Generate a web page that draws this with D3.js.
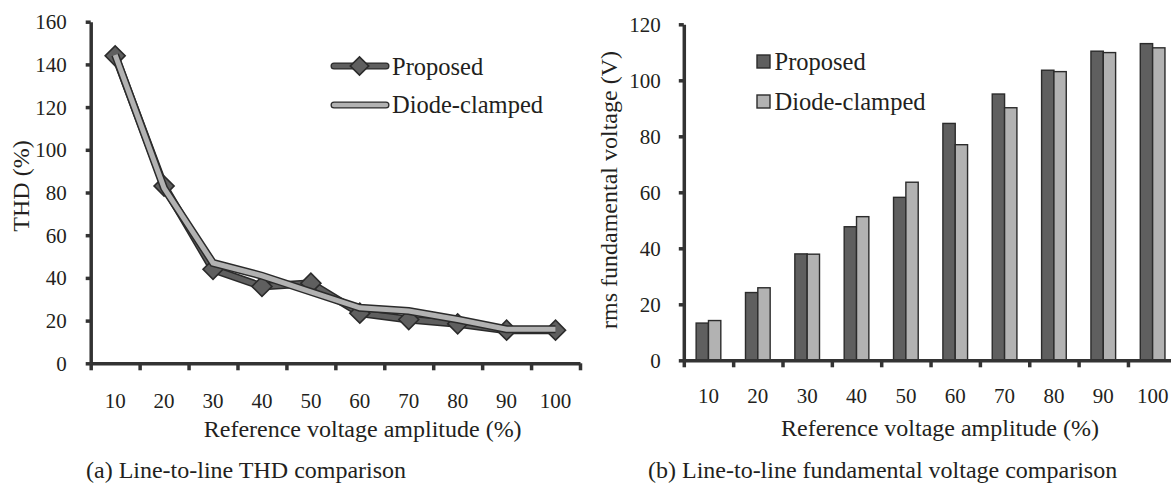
<!DOCTYPE html>
<meta charset="utf-8">
<html>
  <head>
    <style>
     body { margin: 0; background: #fff; }
     text { font-family: "Liberation Serif", "Times New Roman", serif; fill: #231f20; }
     .axis path, .axis line { stroke: #333; stroke-width: 3.5px; }
     .axis text { font-size: 21px; }
     .title { font-size: 24px; }
     .legend text { font-size: 24.5px; }
    </style>
    <script src="https://d3js.org/d3.v7.min.js"></script>
  </head>
  <body>
    <div id="chart"></div>
    <script type="text/javascript">
     // data
     var categories = [10, 20, 30, 40, 50, 60, 70, 80, 90, 100];
     var seriesNames = ["Proposed", "Diode-clamped"];
     var thdProposed = [144, 83, 44, 36, 37.5, 23.5, 20.5, 18.5, 15.5, 15.5];
     var thdDiode = [144.5, 82, 47, 41, 33.5, 26, 24.5, 20.5, 16, 16];
     var voltProposed = [13.3, 24.2, 38, 47.7, 58.2, 84.6, 95.1, 103.6, 110.4, 113.1];
     var voltDiode = [14.2, 25.9, 37.9, 51.3, 63.6, 77.0, 90.2, 103.1, 109.9, 111.6];
     var thdTicks = [0, 20, 40, 60, 80, 100, 120, 140, 160];
     var voltTicks = [0, 20, 40, 60, 80, 100, 120];

     var dark = "#5f5f5f", light = "#b2b2b2", edge = "#2b2b2b";

     var svg = d3.select("#chart").append("svg")
                 .attr("width", 1171)
                 .attr("height", 485);

     // ---------- (a) THD line chart ----------
     var xL = d3.scaleBand().domain(categories).range([90.7, 580]);
     var xLb = d3.scaleLinear().domain([0, categories.length]).range([90.7, 580]);
     var yL = d3.scaleLinear().domain([0, 160]).range([363.3, 21.7]);

     var left = svg.append("g");

     left.append("g").attr("class", "axis")
         .attr("transform", "translate(0," + yL(0) + ")")
         .call(d3.axisBottom(xLb).ticks(10).tickSize(7).tickSizeOuter(0).tickFormat(""));
     left.append("g").attr("class", "axis")
         .attr("transform", "translate(0," + yL(0) + ")")
         .call(d3.axisBottom(xL).tickSize(0))
         .call(function (g) { g.select(".domain").remove(); })
         .selectAll("text").attr("y", 44.7).attr("dy", 0);
     left.append("g").attr("class", "axis")
         .attr("transform", "translate(" + xLb(0) + ",0)")
         .call(d3.axisLeft(yL).tickValues(thdTicks).tickSize(5).tickSizeOuter(0).tickPadding(19))
         .selectAll("text").attr("dy", "0.33em");

     var lineL = function (vals) {
       return d3.line()
                .x(function (d, i) { return xL(categories[i]) + xL.bandwidth() / 2; })
                .y(function (d) { return yL(d); })(vals);
     };

     // Proposed
     left.append("path").attr("d", lineL(thdProposed))
         .attr("fill", "none").attr("stroke", edge).attr("stroke-width", 8);
     left.append("path").attr("d", lineL(thdProposed))
         .attr("fill", "none").attr("stroke", dark).attr("stroke-width", 5);
     left.selectAll(".diamond")
         .data(thdProposed)
         .enter().append("path")
         .attr("class", "diamond")
         .attr("d", d3.symbol().type(d3.symbolSquare).size(200))
         .attr("transform", function (d, i) {
           return "translate(" + (xL(categories[i]) + xL.bandwidth() / 2) + "," + yL(d) + ") rotate(45)";
         })
         .attr("fill", dark).attr("stroke", edge).attr("stroke-width", 1.6);
     // Diode-clamped
     left.append("path").attr("d", lineL(thdDiode))
         .attr("fill", "none").attr("stroke", edge).attr("stroke-width", 8);
     left.append("path").attr("d", lineL(thdDiode))
         .attr("fill", "none").attr("stroke", light).attr("stroke-width", 5);

     var legL = left.append("g").attr("class", "legend");
     [dark, light].forEach(function (c, i) {
       var y = [66, 105][i];
       legL.append("line").attr("x1", 334).attr("x2", 386).attr("y1", y).attr("y2", y)
           .attr("stroke", edge).attr("stroke-width", 7).attr("stroke-linecap", "round");
       legL.append("line").attr("x1", 334).attr("x2", 386).attr("y1", y).attr("y2", y)
           .attr("stroke", c).attr("stroke-width", 4.5).attr("stroke-linecap", "round");
       legL.append("text").attr("x", 392).attr("y", [75, 113][i]).text(seriesNames[i]);
     });
     legL.append("path")
         .attr("d", d3.symbol().type(d3.symbolSquare).size(170))
         .attr("transform", "translate(359.5,66) rotate(45)")
         .attr("fill", dark).attr("stroke", edge).attr("stroke-width", 1.6);

     left.append("text").attr("class", "title")
         .attr("transform", "translate(29,186) rotate(-90)")
         .attr("text-anchor", "middle").text("THD (%)");
     left.append("text").attr("class", "title")
         .attr("x", 362.7).attr("y", 437).attr("text-anchor", "middle")
         .text("Reference voltage amplitude (%)");
     left.append("text").attr("class", "title")
         .attr("x", 86).attr("y", 478).text("(a) Line-to-line THD comparison");

     // ---------- (b) fundamental voltage bar chart ----------
     var xR = d3.scaleBand().domain(categories).range([683.8, 1177.3]);
     var xRb = d3.scaleLinear().domain([0, categories.length]).range([683.8, 1177.3]);
     var xS = d3.scaleBand().domain(seriesNames)
                .range([xR.bandwidth() / 4, xR.bandwidth() * 3 / 4]);
     var yR = d3.scaleLinear().domain([0, 120]).range([360.3, 24.3]);

     var right = svg.append("g");

     var groups = right.selectAll(".group")
                       .data(categories)
                       .enter().append("g")
                       .attr("class", "group")
                       .attr("transform", function (d) { return "translate(" + xR(d) + ",0)"; });
     groups.selectAll("rect")
           .data(function (d, i) {
             return [{ s: seriesNames[0], v: voltProposed[i], c: dark },
                     { s: seriesNames[1], v: voltDiode[i], c: light }];
           })
           .enter().append("rect")
           .attr("x", function (d) { return xS(d.s); })
           .attr("y", function (d) { return yR(d.v); })
           .attr("width", xS.bandwidth())
           .attr("height", function (d) { return yR(0) - yR(d.v); })
           .attr("fill", function (d) { return d.c; })
           .attr("stroke", edge).attr("stroke-width", 1.4);

     right.append("g").attr("class", "axis")
          .attr("transform", "translate(0," + yR(0) + ")")
          .call(d3.axisBottom(xRb).ticks(10).tickSize(7).tickSizeOuter(0).tickFormat(""));
     right.append("g").attr("class", "axis")
          .attr("transform", "translate(0," + yR(0) + ")")
          .call(d3.axisBottom(xR).tickSize(0))
          .call(function (g) { g.select(".domain").remove(); })
          .selectAll("text").attr("y", 43).attr("dy", 0);
     right.append("g").attr("class", "axis")
          .attr("transform", "translate(" + xRb(0) + ",0)")
          .call(d3.axisLeft(yR).tickValues(voltTicks).tickSize(5).tickSizeOuter(0).tickPadding(18))
          .selectAll("text").attr("dy", "0.33em");

     var legR = right.append("g").attr("class", "legend");
     [dark, light].forEach(function (c, i) {
       legR.append("rect").attr("x", 757).attr("y", [55, 95][i])
           .attr("width", 13).attr("height", 13)
           .attr("fill", c).attr("stroke", edge).attr("stroke-width", 1.4);
       legR.append("text").attr("x", 774.5).attr("y", [70, 109.5][i]).text(seriesNames[i]);
     });

     right.append("text").attr("class", "title")
          .attr("transform", "translate(617,190) rotate(-90)")
          .attr("text-anchor", "middle").text("rms fundamental voltage (V)");
     right.append("text").attr("class", "title")
          .attr("x", 940).attr("y", 436).attr("text-anchor", "middle")
          .text("Reference voltage amplitude (%)");
     right.append("text").attr("class", "title")
          .attr("x", 648).attr("y", 478).text("(b) Line-to-line fundamental voltage comparison");
    </script>
  </body>
</html>
